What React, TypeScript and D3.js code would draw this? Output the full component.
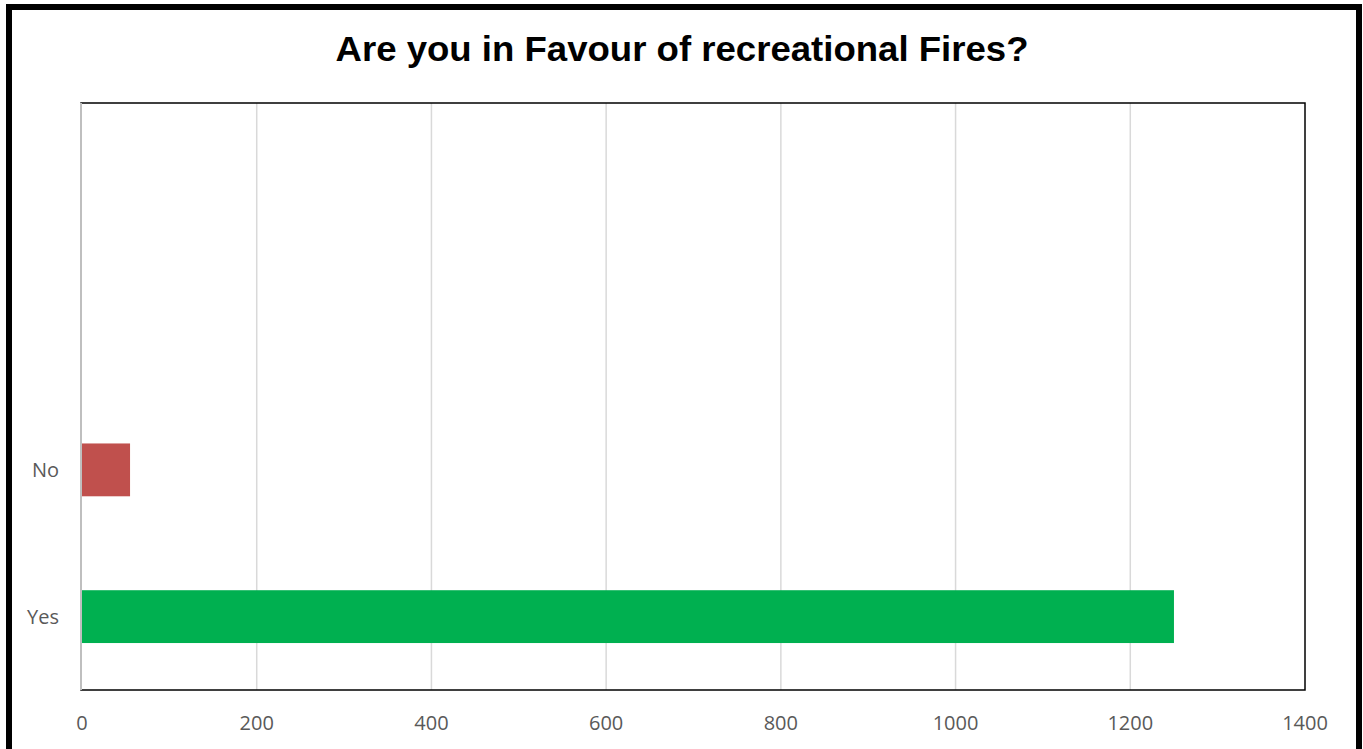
import React from "react";
import * as d3 from "d3";

const categories = ["Yes", "No", "", ""];
const values = [1250, 55, 0, 0];
const barColors = ["#00B050", "#C0504D", "#000000", "#000000"];
const xTicks = [0, 200, 400, 600, 800, 1000, 1200, 1400];
const title = "Are you in Favour of recreational Fires?";

const W = 1363;
const H = 749;
const plot = { left: 81, right: 1305, top: 103, bottom: 690 };

export default function App() {
  const x = d3.scaleLinear().domain([0, 1400]).range([plot.left + 1, plot.right]);
  const idx = categories.map((_, i) => String(i));
  const y = d3
    .scaleBand<string>()
    .domain(idx)
    .range([plot.bottom, plot.top])
    .paddingInner(0.64)
    .paddingOuter(0.32);

  return (
    <div style={{ position: "absolute", left: 0, top: 0 }}>
      <svg width={W} height={H} style={{ display: "block", background: "#fff" }}>
        <rect x={0} y={0} width={W} height={H} fill="#fff" />
        {/* outer border */}
        <rect x={9} y={7} width={1350} height={800} fill="none" stroke="#000" strokeWidth={6} />
        {/* title */}
        <text
          x={682}
          y={61}
          textAnchor="middle"
          fontFamily="'Liberation Sans', Arial, sans-serif"
          fontWeight="bold"
          fontSize={35}
          textLength={693}
          lengthAdjust="spacingAndGlyphs"
          fill="#000"
        >
          {title}
        </text>
        {/* gridlines */}
        {xTicks.slice(1, -1).map((t) => (
          <line
            key={t}
            x1={x(t)}
            x2={x(t)}
            y1={plot.top}
            y2={plot.bottom}
            stroke="#d9d9d9"
            strokeWidth={1.5}
          />
        ))}
        {/* plot box */}
        <rect
          x={plot.left}
          y={plot.top}
          width={plot.right - plot.left}
          height={plot.bottom - plot.top}
          fill="none"
          stroke="#000"
          strokeWidth={1.5}
        />
        {/* bars */}
        {values.map((v, i) =>
          v > 0 ? (
            <rect
              key={i}
              x={x(0)}
              y={y(idx[i])!}
              width={x(v) - x(0)}
              height={y.bandwidth()}
              fill={barColors[i]}
            />
          ) : null
        )}
        {/* left category axis line */}
        <line x1={plot.left} x2={plot.left} y1={plot.top} y2={plot.bottom} stroke="#bfbfbf" strokeWidth={2} />
        {/* category labels */}
        {categories.map((c, i) =>
          c ? (
            <text
              key={i}
              x={59}
              y={y(idx[i])! + y.bandwidth() / 2 + 7}
              textAnchor="end"
              fontFamily="'Open Sans', sans-serif"
              fontSize={20}
              fill="#595959"
            >
              {c}
            </text>
          ) : null
        )}
        {/* x tick labels */}
        {xTicks.map((t) => (
          <text
            key={t}
            x={x(t)}
            y={730}
            textAnchor="middle"
            fontFamily="'Open Sans', sans-serif"
            fontSize={20}
            fill="#595959"
          >
            {t}
          </text>
        ))}
      </svg>
    </div>
  );
}
